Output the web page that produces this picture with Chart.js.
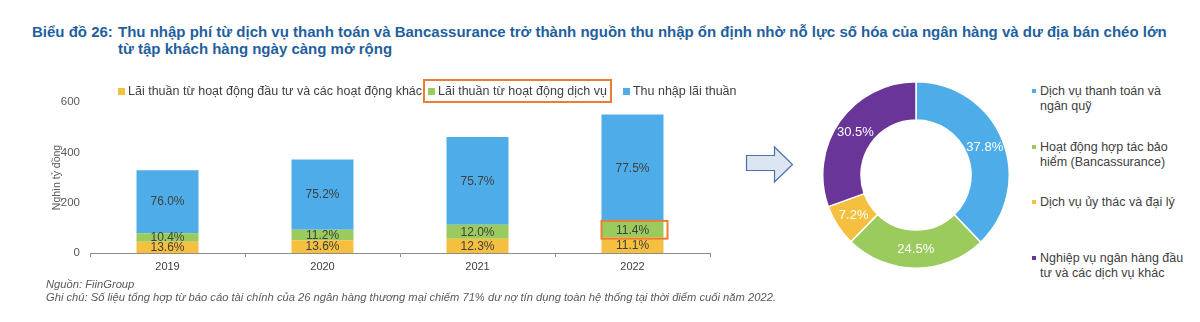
<!DOCTYPE html>
<html>
<head>
<meta charset="utf-8">
<script src="https://cdn.jsdelivr.net/npm/chart.js@4"></script>
<style>
  body { margin: 0; width: 1200px; height: 322px; background: #fff; position: relative; overflow: hidden;
         font-family: "Liberation Sans", Arial, sans-serif; }
  .title { position: absolute; top: 23px; color: #1f5f9e; font-weight: bold; font-size: 15px; line-height: 17px;
           font-family: "Liberation Sans Narrow", "Arial Narrow", "Liberation Sans", sans-serif; }
  #titleHead { left: 32px; }
  #titleText { left: 118px; white-space: nowrap; }
  #barLegend { position: absolute; top: 79px; left: 118px; display: flex; align-items: center; font-size: 12.5px; color: #404040; }
  .lg { display: flex; align-items: center; height: 20px; white-space: nowrap; }
  .lg i { display: inline-block; width: 7px; height: 7px; margin-right: 3px; }
  .lg.hl { border: 2px solid #ed7d31; padding: 0 3px 0 3px; margin: 0 0 0 1px; }
  #bars { position: absolute; left: 0; top: 0; }
  #donut { position: absolute; left: 822px; top: 81px; }
  #pieLegend { position: absolute; left: 1030px; top: 0; font-size: 12.5px; color: #404040; }
  .pl { position: absolute; white-space: nowrap; line-height: 14.5px; padding-left: 10px; }
  .pl i { position: absolute; left: 2px; top: 5px; width: 4px; height: 4px; }
  .note { position: absolute; left: 46px; font-size: 11.2px; font-style: italic; color: #595959;
          font-family: "Liberation Sans Narrow", "Arial Narrow", "Liberation Sans", sans-serif; }
  #arrow { position: absolute; left: 740px; top: 140px; }
</style>
</head>
<body>
<div class="title" id="titleHead">Biểu đồ 26:</div>
<div class="title" id="titleText">Thu nhập phí từ dịch vụ thanh toán và Bancassurance trở thành nguồn thu nhập ổn định nhờ nỗ lực số hóa của ngân hàng và dư địa bán chéo lớn<br>từ tập khách hàng ngày càng mở rộng</div>

<canvas id="bars" width="750" height="322"></canvas>
<div id="barLegend"></div>

<svg id="arrow" width="60" height="50">
  <polygon points="6.5,15.5 34.5,15.5 34.5,7 52.5,24.5 34.5,42 34.5,30.5 6.5,30.5" fill="#dce6f2" stroke="#4f6fa8" stroke-width="1.2"/>
</svg>

<canvas id="donut" width="188" height="188"></canvas>
<div id="pieLegend"></div>

<div class="note" style="top:278px">Nguồn: FiinGroup</div>
<div class="note" style="top:291px">Ghi chú: Số liệu tổng hợp từ báo cáo tài chính của 26 ngân hàng thương mại chiếm 71% dư nợ tín dụng toàn hệ thống tại thời điểm cuối năm 2022.</div>

<script>
// bar chart data (nghìn tỷ đồng)
const years = ['2019', '2020', '2021', '2022'];
const seriesNames = ['Lãi thuần từ hoạt động đầu tư và các hoạt động khác', 'Lãi thuần từ hoạt động dịch vụ', 'Thu nhập lãi thuần'];
const investIncome = [44.7, 50.6, 56.7, 61.1];
const serviceIncome = [34.2, 41.7, 55.3, 62.7];
const interestIncome = [250.0, 279.7, 349.0, 426.3];
const investPct = ['13.6%', '13.6%', '12.3%', '11.1%'];
const servicePct = ['10.4%', '11.2%', '12.0%', '11.4%'];
const interestPct = ['76.0%', '75.2%', '75.7%', '77.5%'];
const yTicks = [0, 200, 400, 600];

// donut data (%)
const feeLabels = [['Dịch vụ thanh toán và', 'ngân quỹ'], ['Hoạt động hợp tác bảo', 'hiểm (Bancassurance)'], ['Dịch vụ ủy thác và đại lý'], ['Nghiệp vụ ngân hàng đầu', 'tư và các dịch vụ khác']];
const feeShares = [37.8, 24.5, 7.2, 30.5];

const barColors = ['#f5bf3f', '#9bcb5d', '#4eade8'];
const pieColors = ['#4eade8', '#9bcb5d', '#f5bf3f', '#6a3599'];
const pieLegendTops = [84, 140, 195, 251];

// html legend for bars
const legendEl = document.getElementById('barLegend');
seriesNames.forEach((name, i) => {
  const d = document.createElement('div');
  d.className = 'lg' + (i === 1 ? ' hl' : '');
  d.innerHTML = `<i style="background:${barColors[i]}"></i>${name}`;
  legendEl.appendChild(d);
});
legendEl.children[2].style.marginLeft = '11px';

// html legend for donut
const pieLegend = document.getElementById('pieLegend');
feeLabels.forEach((lines, i) => {
  const d = document.createElement('div');
  d.className = 'pl';
  d.style.top = pieLegendTops[i] + 'px';
  d.innerHTML = `<i style="background:${pieColors[i]}"></i>` + lines.join('<br>');
  pieLegend.appendChild(d);
});

const pctLabels = [investPct, servicePct, interestPct];

const barLabels = {
  id: 'barLabels',
  afterDatasetsDraw(chart) {
    const ctx = chart.ctx;
    ctx.save();
    ctx.font = '12px "Liberation Sans", Arial, sans-serif';
    ctx.fillStyle = '#404040';
    ctx.textAlign = 'center';
    ctx.textBaseline = 'middle';
    chart.data.datasets.forEach((ds, d) => {
      chart.getDatasetMeta(d).data.forEach((el, i) => {
        ctx.fillText(pctLabels[d][i], el.x, (el.y + el.base) / 2 + 0.5);
      });
    });
    // orange box on 2022 service segment
    const el = chart.getDatasetMeta(1).data[3];
    ctx.strokeStyle = '#ed7d31';
    ctx.lineWidth = 2;
    ctx.strokeRect(el.x - el.width / 2, el.y - 1, el.width + 4, el.base - el.y + 2);
    ctx.restore();
  }
};

new Chart(document.getElementById('bars'), {
  type: 'bar',
  data: {
    labels: years,
    datasets: [
      { label: seriesNames[0], data: investIncome, backgroundColor: barColors[0] },
      { label: seriesNames[1], data: serviceIncome, backgroundColor: barColors[1] },
      { label: seriesNames[2], data: interestIncome, backgroundColor: barColors[2] }
    ]
  },
  options: {
    responsive: false,
    animation: false,
    layout: { padding: { top: 102, left: 50, right: 40, bottom: 39 } },
    datasets: { bar: { categoryPercentage: 1, barPercentage: 0.4 } },
    plugins: { legend: { display: false }, tooltip: { enabled: false } },
    scales: {
      x: {
        stacked: true,
        grid: { offset: true, drawOnChartArea: false, drawTicks: true, tickLength: 4, color: '#8c8c8c' },
        border: { display: true, color: '#8c8c8c' },
        ticks: { color: '#404040', padding: 3, font: { size: 11, family: '"Liberation Sans", Arial' } },
        afterFit: s => { s.height = 30; }
      },
      y: {
        stacked: true,
        min: 0, max: 600,
        afterBuildTicks: s => { s.ticks = yTicks.map(v => ({ value: v })); },
        grid: { display: false, drawTicks: false },
        border: { display: false },
        ticks: { color: '#595959', padding: 10, font: { size: 11.5, family: '"Liberation Sans", Arial' } },
        title: { display: true, text: 'Nghìn tỷ đồng', color: '#595959', padding: { top: 1, bottom: 0 },
                 font: { size: 10.5, family: '"Liberation Sans", Arial' } },
        afterFit: s => { s.width = 40; }
      }
    }
  },
  plugins: [barLabels]
});

const donutLabels = {
  id: 'donutLabels',
  afterDatasetsDraw(chart) {
    const ctx = chart.ctx;
    ctx.save();
    ctx.font = '13px "Liberation Sans", Arial, sans-serif';
    ctx.fillStyle = '#ffffff';
    ctx.textAlign = 'center';
    ctx.textBaseline = 'middle';
    chart.getDatasetMeta(0).data.forEach((arc, i) => {
      const p = arc.tooltipPosition();
      ctx.fillText(feeShares[i].toFixed(1) + '%', p.x, p.y);
    });
    ctx.restore();
  }
};

new Chart(document.getElementById('donut'), {
  type: 'doughnut',
  data: {
    labels: feeLabels.map(l => l.join(' ')),
    datasets: [{ data: feeShares, backgroundColor: pieColors, borderColor: '#ffffff', borderWidth: 1.5, hoverOffset: 0 }]
  },
  options: {
    responsive: false,
    animation: false,
    cutout: '59%',
    plugins: { legend: { display: false }, tooltip: { enabled: false } }
  },
  plugins: [donutLabels]
});
</script>
</body>
</html>
